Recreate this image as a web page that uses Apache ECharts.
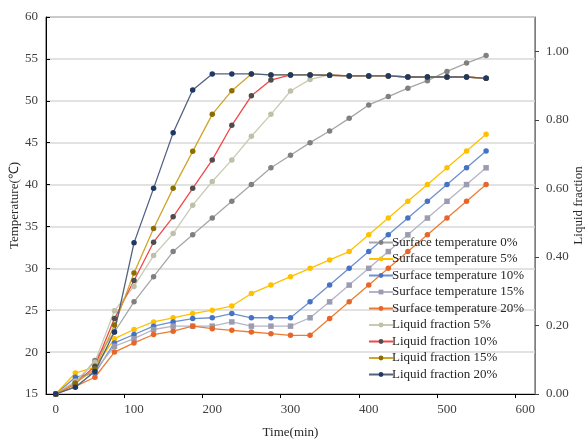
<!DOCTYPE html>
<html>
<head>
<meta charset="utf-8">
<script src="https://cdn.jsdelivr.net/npm/echarts@6/dist/echarts.min.js"></script>
<style>
  html, body { margin: 0; padding: 0; background: #fff; }
  #main { width: 588px; height: 441px; }
</style>
</head>
<body>
<div id="main"></div>
<script>
// time points (min)
var times = [0, 25, 50, 75, 100, 125, 150, 175, 200, 225, 250, 275, 300, 325, 350, 375, 400, 425, 450, 475, 500, 525, 550];

// surface temperature (℃), left axis
var st0  = [15, 16.2, 19.0, 22.4, 26.0, 29.0, 32.0, 34.0, 36.0, 38.0, 40.0, 42.0, 43.5, 45.0, 46.4, 47.9, 49.5, 50.5, 51.5, 52.4, 53.5, 54.5, 55.4];
var st5  = [15, 17.5, 18.2, 21.6, 22.7, 23.6, 24.1, 24.6, 25.0, 25.5, 27.0, 28.0, 29.0, 30.0, 31.0, 32.0, 34.0, 36.0, 38.0, 40.0, 42.0, 44.0, 46.0];
var st10 = [15, 17.0, 17.5, 21.1, 22.1, 23.1, 23.6, 24.0, 24.1, 24.6, 24.1, 24.1, 24.1, 26.0, 28.0, 30.0, 32.0, 34.0, 36.0, 38.0, 40.0, 42.0, 44.0];
var st15 = [15, 16.5, 17.8, 20.7, 21.6, 22.7, 23.1, 23.1, 23.1, 23.6, 23.1, 23.1, 23.1, 24.1, 26.0, 28.0, 30.0, 32.0, 34.0, 36.0, 38.0, 40.0, 42.0];
var st20 = [15, 15.9, 17.0, 20.0, 21.1, 22.1, 22.5, 23.1, 22.8, 22.6, 22.4, 22.2, 22.0, 22.0, 24.0, 26.0, 28.0, 30.0, 32.0, 34.0, 36.0, 38.0, 40.0];

// liquid fraction, right axis
var lf5  = [0, 0.037, 0.093, 0.243, 0.314, 0.404, 0.468, 0.551, 0.620, 0.683, 0.752, 0.816, 0.884, 0.918, 0.931, 0.928, 0.928, 0.928, 0.925, 0.925, 0.925, 0.925, 0.921];
var lf10 = [0, 0.030, 0.081, 0.220, 0.331, 0.443, 0.517, 0.600, 0.683, 0.784, 0.870, 0.916, 0.931, 0.931, 0.930, 0.928, 0.928, 0.928, 0.925, 0.925, 0.925, 0.925, 0.921];
var lf15 = [0, 0.032, 0.073, 0.201, 0.353, 0.483, 0.600, 0.708, 0.816, 0.885, 0.934, 0.931, 0.931, 0.931, 0.930, 0.928, 0.928, 0.928, 0.925, 0.925, 0.925, 0.925, 0.921];
var lf20 = [0, 0.020, 0.066, 0.181, 0.441, 0.600, 0.762, 0.887, 0.934, 0.934, 0.934, 0.931, 0.931, 0.931, 0.930, 0.928, 0.928, 0.928, 0.925, 0.925, 0.925, 0.925, 0.921];

var xLabels = [0, 100, 200, 300, 400, 500, 600];
var yRightTicks = [0, 0.2, 0.4, 0.6, 0.8, 1.0];

var myChart = echarts.init(document.getElementById('main'));
var font = '"Liberation Serif", "Times New Roman", serif';

function pairs(vals) {
    var res = [];
    for (var i = 0; i < vals.length; i++) {
        res.push([times[i], vals[i]]);
    }
    return res;
}

function mk(name, vals, axis, lineColor, markColor, symbol) {
    return {
        name: name,
        type: 'line',
        yAxisIndex: axis,
        data: pairs(vals),
        symbol: symbol || 'circle',
        symbolSize: 5.5,
        showAllSymbol: true,
        animation: false,
        lineStyle: { color: lineColor, width: 1.3 },
        itemStyle: { color: markColor, borderWidth: 0 }
    };
}

var option = {
    backgroundColor: '#fff',
    textStyle: { fontFamily: font },
    grid: {
        left: 46, right: 53, top: 17, bottom: 47,
        outerBoundsMode: 'none',
        containLabel: false,
        show: true,
        borderColor: '#404040',
        borderWidth: 1
    },
    legend: {
        orient: 'vertical',
        left: 363,
        top: 231,
        itemWidth: 24,
        itemHeight: 6,
        itemGap: 3.5,
        textStyle: { fontFamily: font, fontSize: 13, color: '#262626', padding: [0, 0, 0, -6] }
    },
    xAxis: {
        type: 'value',
        min: -12.5,
        max: 612.5,
        name: 'Time(min)',
        nameLocation: 'middle',
        nameGap: 32,
        nameTextStyle: { fontFamily: font, fontSize: 13, color: '#262626' },
        axisLine: { onZero: false, lineStyle: { color: '#000', width: 1 } },
        axisTick: { show: true, length: 4, customValues: [87.5, 187.5, 287.5, 387.5, 487.5, 587.5], lineStyle: { color: '#000' } },
        axisLabel: { customValues: xLabels, fontFamily: font, fontSize: 13, color: '#404040', margin: 9 },
        splitLine: { show: false }
    },
    yAxis: [
        {
            type: 'value',
            min: 15,
            max: 60,
            interval: 5,
            name: 'Temperature(℃)',
            nameLocation: 'middle',
            nameGap: 25,
            nameMoveOverlap: false,
            nameTextStyle: { fontFamily: font, fontSize: 13, color: '#262626' },
            axisLine: { show: true, onZero: false, lineStyle: { color: '#000', width: 1 } },
            axisTick: { show: true, inside: true, length: 4, lineStyle: { color: '#000' } },
            axisLabel: { fontFamily: font, fontSize: 13, color: '#404040', margin: 8 },
            splitLine: { show: true, lineStyle: { color: '#d9d9d9', width: 1.5 } }
        },
        {
            type: 'value',
            min: 0,
            max: 1.1,
            position: 'right',
            name: 'Liquid fraction',
            nameLocation: 'middle',
            nameGap: 37,
            nameMoveOverlap: false,
            nameRotate: 90,
            nameTextStyle: { fontFamily: font, fontSize: 13, color: '#262626' },
            axisLine: { show: true, onZero: false, lineStyle: { color: '#7f7f7f', width: 1 } },
            axisTick: { show: true, length: 4, customValues: yRightTicks, lineStyle: { color: '#404040' } },
            axisLabel: {
                customValues: yRightTicks,
                fontFamily: font, fontSize: 13, color: '#404040', margin: 11,
                formatter: function (v) { return v.toFixed(2); }
            },
            splitLine: { show: false }
        }
    ],
    series: [
        mk('Surface temperature 0%', st0, 0, '#a6a6a6', '#808080'),
        mk('Surface temperature 5%', st5, 0, '#ffc000', '#ffc000'),
        mk('Surface temperature 10%', st10, 0, '#6e8fd0', '#4472c4'),
        mk('Surface temperature 15%', st15, 0, '#b4b4c6', '#9c9cb0', 'rect'),
        mk('Surface temperature 20%', st20, 0, '#ed7d31', '#e8652a'),
        mk('Liquid fraction 5%', lf5, 1, '#cacab4', '#c0c0a8'),
        mk('Liquid fraction 10%', lf10, 1, '#f04848', '#4d4d4d'),
        mk('Liquid fraction 15%', lf15, 1, '#cfa52c', '#8c6d00'),
        mk('Liquid fraction 20%', lf20, 1, '#53627f', '#1f3864')
    ]
};

myChart.setOption(option);
</script>
</body>
</html>
